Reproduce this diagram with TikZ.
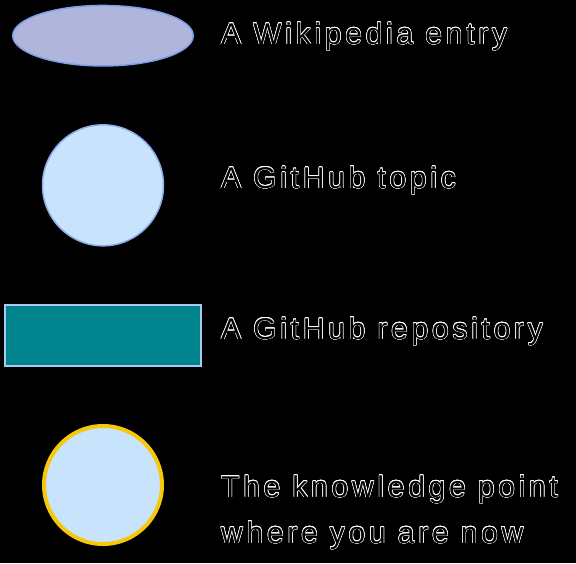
\documentclass[tikz,border=0pt]{standalone}
\usepackage{fontspec}
\usepackage{contour}
\usetikzlibrary{shapes.geometric}
\newfontfamily\legendfont[LetterSpace=12.5]{Liberation Sans}
\contourlength{0.5pt}
\definecolor{wikifill}{RGB}{176,181,220}
\definecolor{wikiline}{RGB}{122,160,232}
\definecolor{topicfill}{RGB}{200,228,252}
\definecolor{topicline}{RGB}{140,172,235}
\definecolor{repofill}{RGB}{0,132,142}
\definecolor{repoline}{RGB}{170,200,242}
\definecolor{hereline}{RGB}{245,200,10}
\begin{document}
\begin{tikzpicture}[x=1pt,y=-1pt,
    wikientry/.style={ellipse,draw=wikiline,fill=wikifill,line width=1.5pt,
      minimum width=180.5pt,minimum height=60.5pt,inner sep=0pt},
    topic/.style={circle,draw=topicline,fill=topicfill,line width=1.5pt,
      minimum size=121pt,inner sep=0pt},
    repo/.style={rectangle,draw=repoline,fill=repofill,line width=2pt,
      minimum width=196pt,minimum height=61pt,inner sep=0pt},
    herepoint/.style={topic,draw=hereline,line width=4pt,minimum size=118pt},
    legendtext/.style={anchor=base west,inner sep=0pt,
      font=\legendfont\fontsize{30}{36}\selectfont}]
            \def\shapex{103}
            \def\textx{221}
            \fill[black] (0,0) rectangle (576,563);
            % shapes
            \node[wikientry] (wiki) at (\shapex,35.7) {};
            \node[topic] (topic) at (\shapex,185.3) {};
            \node[repo] (repo) at (\shapex,335.6) {};
            \node[herepoint] (here) at (\shapex,485) {};
            % labels
            \node[legendtext] (wikilabel) at (\textx,44.3) {\contour{white}{A Wikipedia entry}};
            \node[legendtext] (topiclabel) at (\textx,188.3) {\contour{white}{A GitHub topic}};
            \node[legendtext] (repolabel) at (\textx,339) {\contour{white}{A GitHub repository}};
            \node[legendtext] (herelabel) at (\textx,497) {\contour{white}{The knowledge point}};
            \node[legendtext] (herelabeltwo) at (\textx,543) {\contour{white}{where you are now}};
        \end{tikzpicture}
\end{document}
